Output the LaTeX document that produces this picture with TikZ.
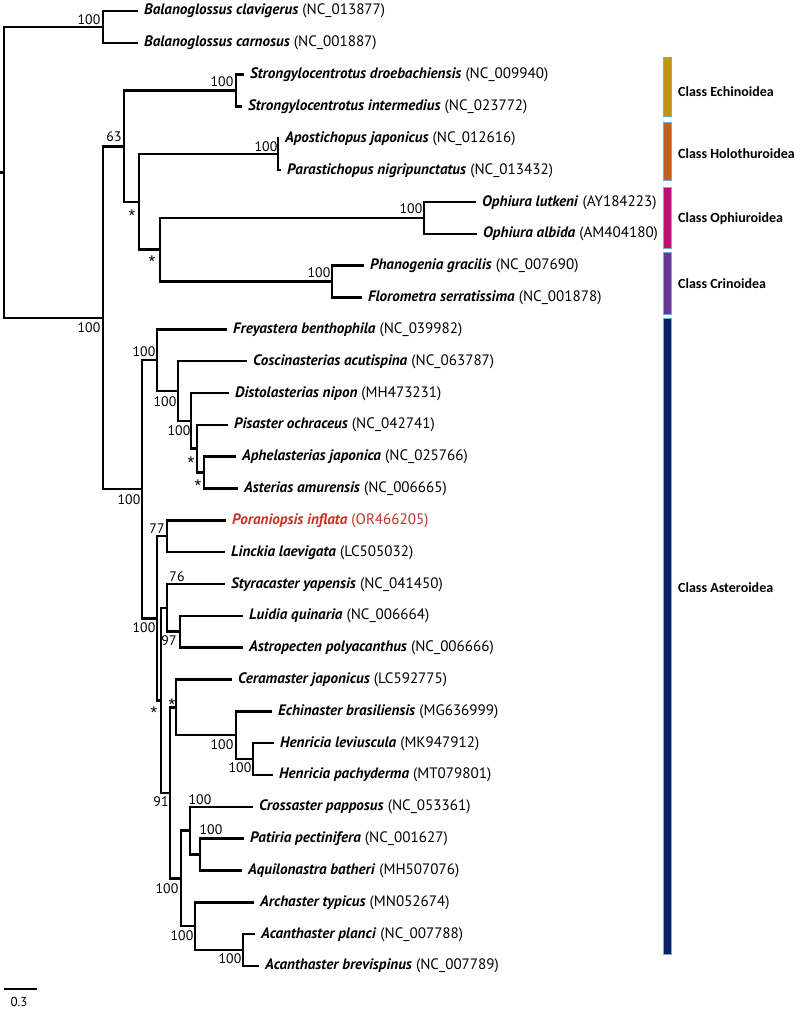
\documentclass[tikz,border=0pt]{standalone}
\usepackage{fontspec}
\setmainfont{PT Sans}
\newfontfamily\classfont{Carlito}
\newfontfamily\starfont{Liberation Sans}
\definecolor{cEch}{RGB}{196,148,12}
\definecolor{cHol}{RGB}{196,94,30}
\definecolor{cOph}{RGB}{190,14,110}
\definecolor{cCri}{RGB}{106,52,150}
\definecolor{cAst}{RGB}{10,32,96}
\definecolor{barline}{RGB}{120,170,225}
\definecolor{hl}{RGB}{196,50,36}
\newcommand\spn[1]{\textbf{\textit{#1}}}
\begin{document}
\begin{tikzpicture}[x=1pt,y=-1pt,
  branch/.style={line width=2.5pt, line join=miter},
  leaf/.style={anchor=west, inner xsep=6pt, inner ysep=0pt, text height=10pt, text depth=2pt, font=\fontsize{15.1}{17}\selectfont},
  sup/.style={inner sep=0pt, font=\fontsize{13.8}{15}\selectfont},
  star/.style={inner sep=0pt, font=\starfont\fontsize{17}{18}\selectfont},
  bar/.style={draw=barline, line width=0.7pt, minimum width=8pt, inner sep=0pt},
  cls/.style={anchor=west, inner sep=0pt, font=\classfont\bfseries\fontsize{14}{16}\selectfont}]
\useasboundingbox (0,0) rectangle (800,1011);
% internal nodes
\coordinate (stub) at (0,172.3);
\coordinate (root) at (4,172.3);
\coordinate (nB) at (103,26.9);
\coordinate (nEcho) at (103,317.8);
\coordinate (n63) at (124,146.3);
\coordinate (nEch) at (236,90.6);
\coordinate (nHOC) at (139,202.0);
\coordinate (nHol) at (278,154.2);
\coordinate (nOC) at (160,249.7);
\coordinate (nOph) at (424,217.9);
\coordinate (nCri) at (332,281.6);
\coordinate (nAst) at (142,489.2);
\coordinate (nFor) at (157,360.1);
\coordinate (nAs2) at (178,391.0);
\coordinate (nAs3) at (191,420.8);
\coordinate (nAs4) at (197,448.7);
\coordinate (nAs5) at (204,472.6);
\coordinate (nA) at (157,618.3);
\coordinate (nPL) at (167,536.2);
\coordinate (nBn) at (161,700.3);
\coordinate (nSty) at (167,607.8);
\coordinate (nLA) at (180,631.7);
\coordinate (nC) at (170,792.9);
\coordinate (nD) at (176,707.3);
\coordinate (nEchi) at (236,735.2);
\coordinate (nHen) at (253,759.0);
\coordinate (nE2) at (181,878.4);
\coordinate (nF) at (190,830.6);
\coordinate (nG) at (200,854.5);
\coordinate (nH) at (195,926.2);
\coordinate (nAc) at (243,950.0);
% leaves
\node[leaf] (l1) at (138,11.0) {\spn{Balanoglossus clavigerus} (NC\_013877)};
\node[leaf] (l2) at (138,42.8) {\spn{Balanoglossus carnosus} (NC\_001887)};
\node[leaf] (l3) at (244,74.7) {\spn{Strongylocentrotus droebachiensis} (NC\_009940)};
\node[leaf] (l4) at (242,106.5) {\spn{Strongylocentrotus intermedius} (NC\_023772)};
\node[leaf] (l5) at (279,138.3) {\spn{Apostichopus japonicus} (NC\_012616)};
\node[leaf] (l6) at (281,170.2) {\spn{Parastichopus nigripunctatus} (NC\_013432)};
\node[leaf] (l7) at (476,202.0) {\spn{Ophiura lutkeni} (AY184223)};
\node[leaf] (l8) at (477,233.8) {\spn{Ophiura albida} (AM404180)};
\node[leaf] (l9) at (364,265.6) {\spn{Phanogenia gracilis} (NC\_007690)};
\node[leaf] (l10) at (362,297.5) {\spn{Florometra serratissima} (NC\_001878)};
\node[leaf] (l11) at (227,329.3) {\spn{Freyastera benthophila} (NC\_039982)};
\node[leaf] (l12) at (247,361.1) {\spn{Coscinasterias acutispina} (NC\_063787)};
\node[leaf] (l13) at (229,393.0) {\spn{Distolasterias nipon} (MH473231)};
\node[leaf] (l14) at (228,424.8) {\spn{Pisaster ochraceus} (NC\_042741)};
\node[leaf] (l15) at (236,456.6) {\spn{Aphelasterias japonica} (NC\_025766)};
\node[leaf] (l16) at (238,488.5) {\spn{Asterias amurensis} (NC\_006665)};
\node[leaf, text=hl] (l17) at (226,520.3) {\spn{Poraniopsis inflata} (OR466205)};
\node[leaf] (l18) at (225,552.1) {\spn{Linckia laevigata} (LC505032)};
\node[leaf] (l19) at (225,584.0) {\spn{Styracaster yapensis} (NC\_041450)};
\node[leaf] (l20) at (243,615.8) {\spn{Luidia quinaria} (NC\_006664)};
\node[leaf] (l21) at (243,647.6) {\spn{Astropecten polyacanthus} (NC\_006666)};
\node[leaf] (l22) at (232,679.4) {\spn{Ceramaster japonicus} (LC592775)};
\node[leaf] (l23) at (272,711.3) {\spn{Echinaster brasiliensis} (MG636999)};
\node[leaf] (l24) at (274,743.1) {\spn{Henricia leviuscula} (MK947912)};
\node[leaf] (l25) at (273,774.9) {\spn{Henricia pachyderma} (MT079801)};
\node[leaf] (l26) at (253,806.8) {\spn{Crossaster papposus} (NC\_053361)};
\node[leaf] (l27) at (244,838.6) {\spn{Patiria pectinifera} (NC\_001627)};
\node[leaf] (l28) at (242,870.4) {\spn{Aquilonastra batheri} (MH507076)};
\node[leaf] (l29) at (254,902.3) {\spn{Archaster typicus} (MN052674)};
\node[leaf] (l30) at (255,934.1) {\spn{Acanthaster planci} (NC\_007788)};
\node[leaf] (l31) at (259,965.9) {\spn{Acanthaster brevispinus} (NC\_007789)};
% branches
\draw[branch] (stub) -- (root);
\foreach \p/\c in {root/nB, root/nEcho, nB/l1, nB/l2, nEcho/n63, nEcho/nAst,
  n63/nEch, n63/nHOC, nEch/l3, nEch/l4, nHOC/nHol, nHOC/nOC, nHol/l5, nHol/l6,
  nOC/nOph, nOC/nCri, nOph/l7, nOph/l8, nCri/l9, nCri/l10,
  nAst/nFor, nAst/nA, nFor/l11, nFor/nAs2, nAs2/l12, nAs2/nAs3, nAs3/l13, nAs3/nAs4,
  nAs4/l14, nAs4/nAs5, nAs5/l15, nAs5/l16,
  nA/nPL, nA/nBn, nPL/l17, nPL/l18, nBn/nSty, nBn/nC, nSty/l19, nSty/nLA, nLA/l20, nLA/l21,
  nC/nD, nC/nE2, nD/l22, nD/nEchi, nEchi/l23, nEchi/nHen, nHen/l24, nHen/l25,
  nE2/nF, nE2/nH, nF/l26, nF/nG, nG/l27, nG/l28, nH/l29, nH/nAc, nAc/l30, nAc/l31}
  \draw[branch] (\p) |- (\c);
% support values
\node[sup] (s1) at (89,20) {100};
\node[sup] (s2) at (222,82) {100};
\node[sup] (s3) at (114,137) {63};
\node[sup] (s4) at (266,147) {100};
\node[star] (s5) at (132,216) {*};
\node[star] (s6) at (152,262) {*};
\node[sup] (s7) at (411,209) {100};
\node[sup] (s8) at (319,273) {100};
\node[sup] (s9) at (89,328) {100};
\node[sup] (s10) at (144,352) {100};
\node[sup] (s11) at (129,500) {100};
\node[sup] (s12) at (165,402) {100};
\node[sup] (s13) at (179,431) {100};
\node[star] (s14) at (191,463) {*};
\node[star] (s15) at (198,486) {*};
\node[sup] (s16) at (157,529) {77};
\node[sup] (s17) at (177,577) {76};
\node[sup] (s18) at (144,628) {100};
\node[sup] (s19) at (169,641) {97};
\node[star] (s20) at (154,713) {*};
\node[star] (s21) at (172,705) {*};
\node[sup] (s22) at (222,745) {100};
\node[sup] (s23) at (240,768) {100};
\node[sup] (s24) at (161,802) {91};
\node[sup] (s25) at (200,800) {100};
\node[sup] (s26) at (211,830) {100};
\node[sup] (s27) at (167,889) {100};
\node[sup] (s28) at (182,936) {100};
\node[sup] (s29) at (230,959) {100};
% class bars
\node[bar, fill=cEch, minimum height=59pt] (bEch) at (667,86.5) {};
\node[bar, fill=cHol, minimum height=58pt] (bHol) at (667,151) {};
\node[bar, fill=cOph, minimum height=61pt] (bOph) at (667,217.5) {};
\node[bar, fill=cCri, minimum height=62pt] (bCri) at (667,283) {};
\node[bar, fill=cAst, minimum height=636pt] (bAst) at (667,636) {};
\node[cls] (tEch) at (678,92) {Class Echinoidea};
\node[cls] (tHol) at (678,154) {Class Holothuroidea};
\node[cls] (tOph) at (678,219) {Class Ophiuroidea};
\node[cls] (tCri) at (678,284) {Class Crinoidea};
\node[cls] (tAst) at (678,588) {Class Asteroidea};
% scale bar
\coordinate (sb1) at (4,989);
\coordinate (sb2) at (37,989);
\draw[line width=2.2pt] (sb1) -- (sb2);
\node[sup, font=\fontsize{13}{14}\selectfont] (sbl) at (19,1002) {0.3};
\end{tikzpicture}
\end{document}
